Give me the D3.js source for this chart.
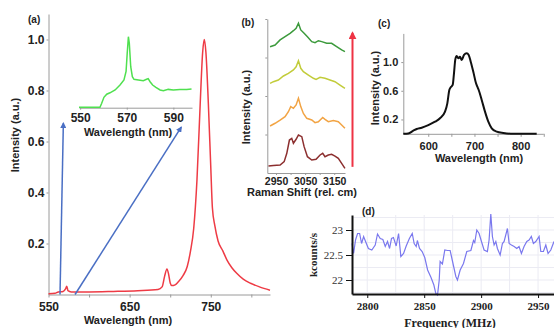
<!DOCTYPE html>
<html>
<head>
<meta charset="utf-8">
<script src="https://cdn.jsdelivr.net/npm/d3@7"></script>
<style>
  body { margin: 0; background: #fff; }
  svg { display: block; font-family: 'Liberation Sans', Arial, sans-serif; }
  .axis path, .axis line { stroke: #9a9a9a; }
  .axis text { font-weight: bold; font-size: 12px; fill: #222; }
  .title { font-weight: bold; font-size: 11px; fill: #222; }
  .tag { font-weight: bold; font-size: 10px; fill: #222; }
  .serif, .serif text { font-family: 'Liberation Serif', 'DejaVu Serif', serif; }
  .axis-d path, .axis-d line { stroke: #111; }
</style>
</head>
<body>
<svg width="554" height="328"></svg>
<script>
// (a) emission spectrum
const redWavelength = [550, 558, 562, 568, 571, 572.5, 574, 578, 600, 630, 660, 685, 690, 693, 696, 698, 700, 702, 706, 710, 716, 721, 725, 729, 733, 737, 740, 742, 744, 747, 750, 752, 755, 759, 765, 770, 776, 782, 790, 799, 810, 823]
const redIntensity = [0.003, 0.005, 0.01, 0.012, 0.022, 0.032, 0.015, 0.01, 0.01, 0.012, 0.015, 0.02, 0.03, 0.07, 0.1, 0.08, 0.045, 0.035, 0.038, 0.05, 0.075, 0.11, 0.17, 0.26, 0.45, 0.75, 0.95, 1.0, 0.95, 0.75, 0.5, 0.34, 0.27, 0.21, 0.17, 0.135, 0.105, 0.083, 0.06, 0.044, 0.03, 0.017]
const aTicksX = [550, 600, 650, 700, 750, 800]
const aLabelsX = [550, 650, 750]
const aTicksY = [0.2, 0.4, 0.6, 0.8, 1.0]

// (a) inset
const insetWavelength = [549.5, 558.5, 559.2, 560.2, 561.4, 562.8, 565, 567.1, 568.8, 569.7, 570.2, 570.7, 571.1, 571.7, 572.4, 573.1, 575, 577.1, 578.5, 579.2, 580, 581.1, 582.5, 584.3, 585.7, 587.8, 590, 592.8, 595.7, 597.8]
const insetIntensity = [0.005, 0.005, 0.06, 0.146, 0.19, 0.21, 0.25, 0.32, 0.39, 0.51, 0.77, 1.0, 0.906, 0.577, 0.437, 0.4, 0.39, 0.38, 0.4, 0.41, 0.366, 0.32, 0.286, 0.25, 0.24, 0.258, 0.25, 0.258, 0.255, 0.262]
const insetTicksX = [550, 570, 590]

// arrows in (a), data units [wavelength, intensity]
const arrowFrom = [[564.2, 0], [582.7, 0]]
const arrowTo = [[568.3, 0.672], [713.6, 0.656]]

// (b) Raman spectra, stacked (shift, offset intensity)
const ramanGreen = [[2929.5, 8.2], [2946.8, 8.31], [2964, 8.64], [2981, 8.85], [2998.3, 9.07], [3009.7, 9.24], [3019, 9.39], [3027, 9.72], [3035, 9.29], [3046.5, 9.07], [3057.9, 8.85], [3072.8, 8.53], [3084, 8.46], [3095.5, 8.59], [3107, 8.53], [3124, 8.42], [3141, 8.42], [3158.3, 8.2], [3175.5, 7.99], [3186.8, 7.88]]
const ramanYellow = [[2929.5, 5.82], [2941, 5.93], [2958, 6.04], [2975.5, 6.3], [2992.5, 6.47], [3009.7, 6.69], [3019, 6.9], [3027, 7.29], [3035, 6.8], [3044, 6.58], [3061.3, 6.36], [3078.5, 6.15], [3087.6, 6.08], [3101.3, 6.21], [3118.3, 6.15], [3135.4, 6.04], [3152.6, 5.93], [3169.8, 5.71], [3186.8, 5.5]]
const ramanOrange = [[2929.5, 3.05], [2946.8, 3.23], [2964, 3.44], [2981, 3.66], [2992.5, 3.98], [3000.6, 4.31], [3009.7, 4.2], [3019, 4.42], [3027, 4.85], [3035, 4.31], [3044, 3.87], [3055.6, 3.55], [3072.8, 3.44], [3084, 3.27], [3095.5, 3.33], [3110.4, 3.61], [3118.3, 3.48], [3129.7, 3.33], [3146.9, 3.4], [3164, 3.33], [3175.5, 3.12], [3186.8, 2.9]]
const ramanMaroon = [[2924, 0.45], [2941, 0.48], [2964, 0.52], [2978, 0.74], [2987, 1.28], [2996, 2.14], [3004, 2.25], [3009.7, 1.93], [3019, 2.19], [3027, 2.47], [3038.5, 2.36], [3046.5, 1.71], [3057.9, 1.06], [3072.8, 0.84], [3087.6, 0.89], [3101.3, 1.17], [3110.4, 1.28], [3118.3, 1.06], [3129.7, 1.17], [3141, 1.21], [3152.6, 1.1], [3164, 0.95], [3175.5, 0.63], [3186.8, 0.3]]
const bTicksX = [2950, 3050, 3150]

// (c) broad emission
const cWavelength = [546, 556.8, 567.6, 575, 585.8, 600.1, 614.6, 625.4, 636.3, 641.3, 645.6, 648.6, 652.9, 655.7, 658.6, 661.6, 665, 668.7, 672.4, 677.4, 683.2, 687.5, 691.9, 697.5, 703.4, 706.2, 709.2, 715.7, 722.8, 730, 737.4, 748.2, 762.5, 784.1, 834.7]
const cIntensity = [0, 0.005, 0.043, 0.067, 0.085, 0.122, 0.169, 0.216, 0.309, 0.425, 0.611, 0.648, 0.681, 0.844, 1.038, 1.085, 1.052, 1.076, 1.029, 1.099, 1.122, 1.099, 1.006, 0.866, 0.704, 0.657, 0.611, 0.472, 0.309, 0.169, 0.076, 0.03, 0.011, 0, 0]
const cTicksX = [600, 700, 800]
const cTicksY = [0.2, 0.6, 1.0]

// (d) ODMR
const dFrequency = [2786.6, 2788, 2789.7, 2791.5, 2793.3, 2795, 2796.8, 2798.5, 2801, 2804, 2807, 2809, 2811.4, 2813.7, 2815.8, 2817.8, 2819.6, 2821.3, 2823, 2825.4, 2827.5, 2829.5, 2831.9, 2834.2, 2837, 2839.5, 2841.2, 2843, 2844, 2845.9, 2848.2, 2850.5, 2853, 2856, 2858.5, 2860.2, 2861.7, 2863.2, 2864, 2866, 2868.1, 2870.5, 2872.8, 2874.9, 2877.8, 2879.2, 2881.6, 2884.5, 2887.4, 2891, 2893.3, 2894.4, 2896.2, 2898.2, 2900.3, 2902.6, 2905.5, 2907, 2908.5, 2909.9, 2911.4, 2912.9, 2914.3, 2916.7, 2918.7, 2920.2, 2923.1, 2924.6, 2926.6, 2929, 2931.3, 2933.3, 2935.4, 2937.7, 2940.1, 2942.1, 2944.1, 2945.9, 2948, 2950.9, 2952.4, 2954.7, 2956.8, 2958.8, 2961.2, 2964]
const dCounts = [22.73, 22.53, 22.8, 22.93, 22.93, 22.73, 22.87, 22.77, 22.63, 22.6, 22.7, 22.92, 22.83, 22.81, 22.67, 22.77, 22.63, 22.83, 22.85, 22.68, 22.93, 22.47, 22.53, 22.68, 22.83, 22.93, 22.73, 22.67, 22.79, 22.63, 22.57, 22.45, 22.2, 22.05, 21.9, 21.73, 21.7, 22.0, 22.37, 22.32, 22.6, 22.59, 22.59, 22.37, 22.07, 22.0, 22.2, 22.33, 22.57, 22.59, 22.79, 22.75, 23.0, 22.93, 22.77, 22.6, 22.57, 22.8, 23.32, 22.87, 22.7, 22.77, 22.63, 22.5, 22.73, 22.77, 23.03, 22.73, 22.7, 22.67, 22.63, 22.67, 22.53, 22.67, 22.77, 22.8, 22.87, 22.73, 22.77, 22.87, 22.57, 22.57, 22.7, 22.53, 22.6, 22.77]
const dTicksX = [2800, 2850, 2900, 2950]
const dTicksY = [22, 22.5, 23]

const svg = d3.select('svg')
const defs = svg.append('defs')

function addArrowHead(id, color, size) {
  defs.append('marker')
    .attr('id', id)
    .attr('markerUnits', 'userSpaceOnUse')
    .attr('viewBox', '0 0 10 10')
    .attr('refX', 8).attr('refY', 5)
    .attr('markerWidth', size).attr('markerHeight', size)
    .attr('orient', 'auto')
    .append('path')
    .attr('d', 'M0,0 L10,5 L0,10 Z')
    .attr('fill', color)
}

function addTitle(x, y, text, rotate, cls) {
  const t = svg.append('text')
    .attr('class', cls || 'title')
    .attr('text-anchor', 'middle')
    .text(text)
  if (rotate) t.attr('transform', `translate(${x},${y}) rotate(-90)`)
  else t.attr('x', x).attr('y', y)
  return t
}

function drawPanelA() {
  const x = d3.scaleLinear().domain([550, 823]).range([48.5, 270])
  const y = d3.scaleLinear().domain([0, 1.1]).range([294.5, 14])

  svg.append('g')
    .attr('class', 'axis')
    .attr('transform', 'translate(0,294.5)')
    .call(d3.axisBottom(x).tickValues(aTicksX).tickSize(3).tickSizeOuter(0).tickPadding(5)
      .tickFormat(d => aLabelsX.includes(d) ? d : ''))
  svg.append('g')
    .attr('class', 'axis')
    .attr('transform', 'translate(48.5,0)')
    .call(d3.axisLeft(y).tickValues(aTicksY).tickSize(2).tickSizeOuter(0).tickPadding(2)
      .tickFormat(d3.format('.1f')))

  const line = d3.line()
    .x((d, i) => x(redWavelength[i]))
    .y(d => y(d))
    .curve(d3.curveMonotoneX)
  svg.append('path')
    .datum(redIntensity)
    .attr('d', line)
    .attr('fill', 'none')
    .attr('stroke', '#ee3b45')
    .attr('stroke-width', 1.5)

  addArrowHead('blueHead', '#4a6fc4', 6)
  arrowFrom.forEach((p, i) => {
    svg.append('line')
      .attr('x1', x(p[0])).attr('y1', y(p[1]))
      .attr('x2', x(arrowTo[i][0])).attr('y2', y(arrowTo[i][1]))
      .attr('stroke', '#4a6fc4')
      .attr('stroke-width', 1.5)
      .attr('marker-end', 'url(#blueHead)')
  })

  addTitle(19, 135, 'Intensity (a.u.)', true)
  addTitle(128, 324, 'Wavelength (nm)')
  svg.append('text').attr('class', 'tag').attr('x', 28).attr('y', 23).text('(a)')
}

function drawInset() {
  const x = d3.scaleLinear().domain([549.5, 598]).range([79, 192])
  const y = d3.scaleLinear().domain([0, 1]).range([107.7, 36.7])

  svg.append('g')
    .attr('class', 'axis')
    .attr('transform', 'translate(0,107.7)')
    .call(d3.axisBottom(x).tickValues(insetTicksX).tickSize(2).tickSizeOuter(0).tickPadding(4))

  svg.append('path')
    .datum(insetIntensity)
    .attr('d', d3.line().x((d, i) => x(insetWavelength[i])).y(d => y(d)))
    .attr('fill', 'none')
    .attr('stroke', '#4fe04f')
    .attr('stroke-width', 1.5)

  addTitle(128, 135.5, 'Wavelength (nm)')
}

function drawPanelB() {
  const x = d3.scaleLinear().domain([2920, 3187]).range([267.3, 345])
  const y = d3.scaleLinear().domain([0, 10]).range([173, 19])

  const ax = svg.append('g')
    .attr('class', 'axis')
    .attr('transform', 'translate(0,173)')
    .call(d3.axisBottom(x).tickValues([2950, 3000, 3050, 3100, 3150]).tickSize(2).tickSizeOuter(0).tickPadding(3)
      .tickFormat(d => bTicksX.includes(d) ? d : ''))
  ax.selectAll('text').style('font-size', '10.5px')
  svg.append('g')
    .attr('class', 'axis')
    .attr('transform', 'translate(267.3,0)')
    .call(d3.axisLeft(y).tickValues([2.5, 5, 7.5, 10]).tickSize(2).tickSizeOuter(0).tickFormat(''))

  const line = d3.line().x(d => x(d[0])).y(d => y(d[1]))
  const series = [[ramanGreen, '#3c9a3c'], [ramanYellow, '#c2cc3a'], [ramanOrange, '#f2a444'], [ramanMaroon, '#8c2f2f']]
  series.forEach(s => {
    svg.append('path')
      .datum(s[0])
      .attr('d', line)
      .attr('fill', 'none')
      .attr('stroke', s[1])
      .attr('stroke-width', 1.5)
  })

  addArrowHead('redHead', '#ee3344', 8)
  svg.append('line')
    .attr('x1', 352.5).attr('y1', y(0.4))
    .attr('x2', 352.5).attr('y2', y(9.1))
    .attr('stroke', '#ee3344')
    .attr('stroke-width', 2)
    .attr('marker-end', 'url(#redHead)')

  addTitle(249.5, 107, 'Intensity (a.u.)', true)
  addTitle(302, 196, 'Raman Shift (rel. cm)')
  svg.append('text').attr('class', 'tag').attr('x', 241.5).attr('y', 26).text('(b)')
}

function drawPanelC() {
  const x = d3.scaleLinear().domain([546, 849]).range([403.3, 543.3])
  const y = d3.scaleLinear().domain([0, 1.4]).range([133.8, 33.4])

  const ax = svg.append('g')
    .attr('class', 'axis')
    .attr('transform', 'translate(0,133.8)')
    .call(d3.axisBottom(x).tickValues([600, 650, 700, 750, 800, 850]).tickSize(3).tickSizeOuter(0).tickPadding(5)
      .tickFormat(d => cTicksX.includes(d) ? d : ''))
  ax.selectAll('text').style('font-size', '11px')
  const ay = svg.append('g')
    .attr('class', 'axis')
    .attr('transform', 'translate(403.3,0)')
    .call(d3.axisLeft(y).tickValues(cTicksY).tickSize(2).tickSizeOuter(0).tickPadding(3)
      .tickFormat(d3.format('.1f')))
  ay.selectAll('text').style('font-size', '11px')

  svg.append('path')
    .datum(cIntensity)
    .attr('d', d3.line().x((d, i) => x(cWavelength[i])).y(d => y(d)).curve(d3.curveMonotoneX))
    .attr('fill', 'none')
    .attr('stroke', '#111')
    .attr('stroke-width', 2)

  addTitle(379, 88, 'Intensity (a.u.)', true)
  addTitle(479, 162, 'Wavelength (nm)')
  svg.append('text').attr('class', 'tag').attr('x', 378).attr('y', 27).text('(c)')
}

function drawPanelD() {
  const x = d3.scaleLinear().domain([2786.6, 2964]).range([352, 554])
  const y = d3.scaleLinear().domain([21.72, 23.3]).range([294, 215])

  // faint grid
  const grid = svg.append('g').attr('stroke', '#ebebf3').attr('stroke-width', 1)
  d3.range(21.75, 23.3, 0.25).forEach(v => {
    grid.append('line').attr('x1', 352).attr('x2', 554).attr('y1', y(v)).attr('y2', y(v))
  })
  d3.range(2800, 2964, 25).forEach(v => {
    grid.append('line').attr('x1', x(v)).attr('x2', x(v)).attr('y1', 215).attr('y2', 294)
  })

  svg.append('path')
    .datum(dCounts)
    .attr('d', d3.line().x((d, i) => x(dFrequency[i])).y(d => y(d)))
    .attr('fill', 'none')
    .attr('stroke', '#7a78ee')
    .attr('stroke-width', 1.2)

  const ax = svg.append('g')
    .attr('class', 'axis axis-d serif')
    .attr('transform', 'translate(0,294)')
    .call(d3.axisBottom(x).tickValues(dTicksX).tickSize(4).tickSizeOuter(0).tickPadding(4)
      .tickFormat(d3.format('d')))
  ax.select('.domain').attr('stroke-width', 2)
  ax.selectAll('text').style('font-size', '11px')

  const ay = svg.append('g')
    .attr('class', 'axis axis-d serif')
    .attr('transform', 'translate(352,0)')
    .call(d3.axisLeft(y).tickValues(dTicksY).tickSize(6).tickSizeOuter(0).tickPadding(3)
      .tickFormat(d => String(d)))
  ay.select('.domain').attr('stroke-width', 2)
  ay.selectAll('text').style('font-weight', 'normal').style('font-size', '11px').style('fill', '#333')

  addTitle(317, 255, 'kcounts/s', true).classed('serif', true)
  addTitle(450, 327, 'Frequency (MHz)').classed('serif', true).style('font-size', '12px')
  svg.append('text').attr('class', 'tag').attr('x', 362).attr('y', 215).text('(d)')
}

drawPanelA()
drawInset()
drawPanelB()
drawPanelC()
drawPanelD()
</script>
</body>
</html>
